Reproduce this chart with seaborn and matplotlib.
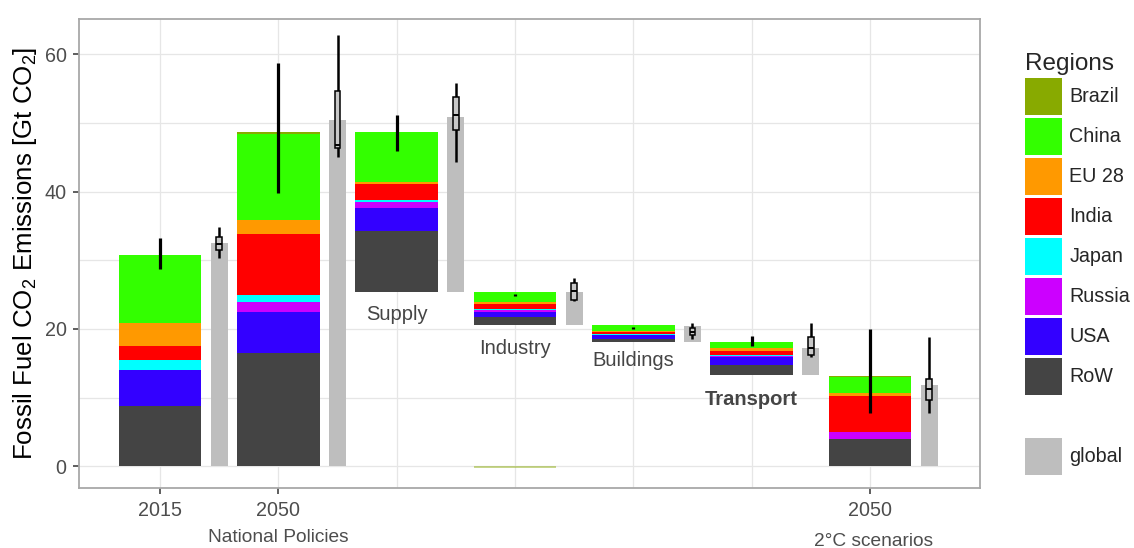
import numpy as np
import matplotlib
matplotlib.use('Agg')
import matplotlib.pyplot as plt
from matplotlib.patches import Patch
from matplotlib.transforms import blended_transform_factory
import seaborn as sns

# ---------------- data ----------------
columns = ['2015', '2050', 'Supply', 'Industry', 'Buildings', 'Transport', '2050 2C']
kinds = ['level', 'level', 'step', 'step', 'step', 'step', 'level']
tick_labels = ['2015', '2050', '', '', '', '', '2050']
sector_labels = ['', '', 'Supply', 'Industry', 'Buildings', 'Transport', '']
sector_label_y = [0, 0, 22.15, 17.1, 15.35, 9.8, 0]

regions = ['Brazil', 'China', 'EU 28', 'India', 'Japan', 'Russia', 'USA', 'RoW']
region_colors = ['#88aa00', '#33ff00', '#ff9900', '#ff0000', '#00ffff', '#cc00ff', '#3300ff', '#444444']
global_color = '#bebebe'

brazil = [0.10, 0.20, 0.00, -0.20, 0.00, 0.00, 0.10]
china = [9.77, 12.65, 7.28, 1.50, 0.87, 0.82, 2.33]
eu28 = [3.35, 1.90, 0.23, 0.33, 0.15, 0.50, 0.48]
india = [2.10, 8.90, 2.30, 0.73, 0.25, 0.60, 5.20]
japan = [1.45, 1.10, 0.30, 0.12, 0.05, 0.10, 0.10]
russia = [0.00, 1.50, 0.90, 0.22, 0.12, 0.20, 1.00]
usa = [5.25, 5.95, 3.40, 0.73, 0.60, 1.16, 0.00]
row = [8.78, 16.45, 8.83, 1.27, 0.40, 1.35, 3.93]

# uncertainty range of the national stacked bars
err_lo = [28.8, 39.8, 45.96, 24.8, 20.05, 17.5, 7.7]
err_hi = [33.2, 58.7, 51.16, 25.1, 20.3, 18.98, 19.95]

# global model results (grey bars) and their box statistics
global_top = [32.5, 50.5, 50.9, 25.4, 20.43, 17.18, 11.84]
box_whisk_lo = [30.3, 45.1, 44.35, 24.0, 18.6, 15.87, 7.7]
box_q1 = [31.5, 46.3, 48.97, 24.2, 19.1, 16.2, 9.65]
box_med = [32.4, 46.8, 51.2, 25.5, 19.6, 17.2, 11.2]
box_q3 = [33.4, 54.7, 53.8, 26.65, 20.1, 18.79, 12.67]
box_whisk_hi = [34.9, 62.8, 55.87, 27.4, 20.8, 20.8, 18.87]

# ---------------- style ----------------
sns.set_theme(style='whitegrid')
plt.rcParams['font.family'] = ['Liberation Sans', 'DejaVu Sans']
plt.rcParams['mathtext.fontset'] = 'custom'
plt.rcParams['mathtext.rm'] = 'Liberation Sans'
plt.rcParams['mathtext.default'] = 'regular'

W, H = 1134, 548
fig = plt.figure(figsize=(W / 100, H / 100), dpi=100)
fig.patch.set_facecolor('white')
ax = fig.add_axes([79 / W, 1 - 488 / H, (980 - 79) / W, (488 - 19) / H])
ax.set_facecolor('white')
ax.set_axisbelow(True)

series = {'Brazil': brazil, 'China': china, 'EU 28': eu28, 'India': india,
          'Japan': japan, 'Russia': russia, 'USA': usa, 'RoW': row}
color_of = dict(zip(regions, region_colors))
stack_order = regions[::-1]  # bottom-up: RoW ... Brazil

pos = np.arange(1, len(columns) + 1, dtype=float)
gpos = pos + 0.5
bar_w = 0.70
gbar_w = 0.144

# bases (waterfall)
bases = []
current = 0.0
for j, kind in enumerate(kinds):
    total = sum(max(series[r][j], 0) for r in regions)
    if kind == 'level':
        bases.append(0.0)
        current = total
    else:
        base = current - total
        bases.append(base)
        current = base

# grey global bars
ax.bar(gpos, np.array(global_top) - np.array(bases), bottom=bases, width=gbar_w,
       color=global_color, linewidth=0, zorder=2)

# stacked regional bars
for j in range(len(columns)):
    bottom_pos = bases[j]
    bottom_neg = 0.0
    for r in stack_order:
        v = series[r][j]
        if v > 0:
            ax.bar(pos[j], v, bottom=bottom_pos, width=bar_w, color=color_of[r],
                   linewidth=0, zorder=3)
            bottom_pos += v
        elif v < 0:
            ax.bar(pos[j], v, bottom=bottom_neg, width=bar_w, color=color_of[r],
                   alpha=0.45, linewidth=0, zorder=3)
            bottom_neg += v

# error bars on regional stacks
ax.vlines(pos, err_lo, err_hi, color='black', linewidth=2.3, zorder=5)

# mini box plots on grey bars
ax.vlines(gpos, box_whisk_lo, box_whisk_hi, color='black', linewidth=1.8, zorder=5)
ax.bar(gpos, np.array(box_q3) - np.array(box_q1), bottom=box_q1, width=0.05,
       color='#c8c8c8', edgecolor='black', linewidth=1.1, zorder=6)
ax.hlines(box_med, gpos - 0.025, gpos + 0.025, color='black', linewidth=1.4, zorder=7)

# sector labels
for j, lab in enumerate(sector_labels):
    if lab:
        ax.text(pos[j], sector_label_y[j], lab, ha='center', va='center',
                fontsize=14.5, color='#454545',
                fontweight='bold' if lab == 'Transport' else 'normal', zorder=8)

# axes
ax.set_xlim(0.315, 7.93)
ax.set_ylim(-3.16, 65.14)
ax.set_yticks([0, 20, 40, 60])
ax.set_yticks([10, 30, 50], minor=True)
major_idx = [i for i, t in enumerate(tick_labels) if t]
ax.set_xticks(pos[major_idx])
ax.set_xticklabels([tick_labels[i] for i in major_idx])
ax.set_xticks([pos[i] for i in range(len(pos)) if i not in major_idx], minor=True)
ax.grid(True, which='both', color='#e6e6e6', linewidth=0.9)
ax.tick_params(axis='both', which='major', length=4, width=1.1, color='#333333',
               labelsize=14.2, labelcolor='#4d4d4d', pad=5, bottom=True, left=True)
ax.tick_params(axis='both', which='minor', length=0)
for sp in ax.spines.values():
    sp.set_color('#a8a8a8')
    sp.set_linewidth(1.3)

ax.set_ylabel(r'Fossil Fuel CO$_2$ Emissions [Gt CO$_2$]', fontsize=18.6, color='black', labelpad=4)

trans = blended_transform_factory(ax.transData, ax.transAxes)
ax.text(2.0, -0.106, 'National Policies', transform=trans, ha='center', va='center',
        fontsize=13.8, color='#4d4d4d')
ax.text(7.03, -0.114, '2°C scenarios', transform=trans, ha='center', va='center',
        fontsize=13.8, color='#4d4d4d')

# legend
handles = [Patch(facecolor=c, edgecolor='none') for c in region_colors]
labels = list(regions)
handles.append(Patch(facecolor='none', edgecolor='none'))
labels.append('')
handles.append(Patch(facecolor=global_color, edgecolor='none'))
labels.append('global')
leg = fig.legend(handles, labels, loc='upper left', bbox_to_anchor=(1025 / W, 1 - 53 / H),
                 frameon=False, fontsize=14.2, title='Regions', title_fontsize=17.5,
                 handlelength=1.88, handleheight=2.51, labelspacing=0.15,
                 handletextpad=0.36, borderpad=0, borderaxespad=0, alignment='left')

fig.savefig('out.png', dpi=100, facecolor='white')
